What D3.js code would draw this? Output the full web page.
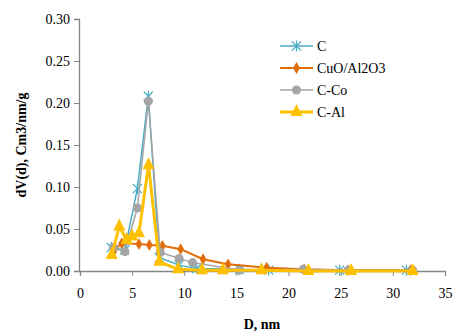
<!DOCTYPE html>
<html>
<head>
<meta charset="utf-8">
<script src="https://cdn.jsdelivr.net/npm/d3@7"></script>
<style>
  body { margin: 0; background: #fff; }
  svg, svg text { font-family: "Liberation Serif", "Times New Roman", serif !important; }
</style>
</head>
<body>
<svg id="chart" width="454" height="334"></svg>
<script>
// pore diameter D (nm) and dV(d) for each sample
const seriesNames = ["C", "CuO/Al2O3", "C-Co", "C-Al"];

const cD = [3.0, 4.3, 5.5, 6.55, 7.6, 9.5, 11.2, 15.3, 18.1, 24.9, 31.3];
const cV = [0.028, 0.025, 0.098, 0.208, 0.016, 0.007, 0.003, 0.002, 0.001, 0.001, 0.001];

const cuoD = [3.3, 4.0, 5.65, 6.65, 7.9, 9.65, 11.8, 14.2, 17.9, 21.5, 25.7, 31.7];
const cuoV = [0.025, 0.033, 0.032, 0.031, 0.030, 0.026, 0.014, 0.008, 0.004, 0.002, 0.001, 0.001];

const coD = [3.2, 4.3, 5.5, 6.55, 7.7, 9.5, 10.8, 15.3, 21.4, 25.7, 31.9];
const coV = [0.028, 0.023, 0.075, 0.202, 0.022, 0.015, 0.010, 0.001, 0.002, 0.001, 0.001];

const alD = [3.04, 3.77, 4.47, 5.0, 5.65, 6.57, 7.6, 9.4, 11.7, 13.7, 17.4, 21.9, 26.0, 31.9];
const alV = [0.019, 0.053, 0.037, 0.041, 0.045, 0.126, 0.011, 0.002, 0.001, 0.001, 0.001, 0.0, 0.0, 0.0];

const xTicks = [0, 5, 10, 15, 20, 25, 30, 35];
const yTicks = [0, 0.05, 0.10, 0.15, 0.20, 0.25, 0.30];

const zip = (xs, ys) => xs.map((d, i) => ({x: d, y: ys[i]}));

const series = [
  {name: seriesNames[0], pts: zip(cD, cV), color: "#4BACC6", width: 1.5, marker: "star"},
  {name: seriesNames[1], pts: zip(cuoD, cuoV), color: "#E36C09", width: 2, marker: "diamond"},
  {name: seriesNames[2], pts: zip(coD, coV), color: "#A5A5A5", width: 1.5, marker: "circle"},
  {name: seriesNames[3], pts: zip(alD, alV), color: "#FFC000", width: 3, marker: "triangle"}
];

const svg = d3.select("#chart");
const margin = {left: 80, right: 9, top: 19, bottom: 63};
const W = 454, H = 334;

const x = d3.scaleLinear().domain([0, 35]).range([margin.left, W - margin.right]);
const y = d3.scaleLinear().domain([0, 0.30]).range([H - margin.bottom, margin.top]);

const axisColor = "#868686";

// y axis
const gy = svg.append("g")
  .attr("transform", `translate(${margin.left - 1},0)`)
  .call(d3.axisLeft(y).tickValues(yTicks).tickFormat(d3.format(".2f")).tickSize(5).tickPadding(4));
// x axis
const gx = svg.append("g")
  .attr("transform", `translate(0,${H - margin.bottom})`)
  .call(d3.axisBottom(x).tickValues(xTicks).tickSize(5).tickPadding(12));

[gx, gy].forEach(g => {
  g.attr("font-family", null);
  g.select(".domain").attr("stroke", axisColor).attr("stroke-width", 1.3);
  g.selectAll(".tick line").attr("stroke", axisColor);
  g.selectAll(".tick text").attr("fill", "#000").attr("font-size", 14);
});

// axis titles
svg.append("text")
  .attr("transform", `translate(26,${(margin.top + H - margin.bottom) / 2}) rotate(-90)`)
  .attr("text-anchor", "middle")
  .attr("font-weight", "bold")
  .attr("font-size", 14)
  .text("dV(d), Cm3/nm/g");

svg.append("text")
  .attr("x", 262)
  .attr("y", 329)
  .attr("text-anchor", "middle")
  .attr("font-weight", "bold")
  .attr("font-size", 14)
  .text("D, nm");

const line = d3.line().x(d => x(d.x)).y(d => y(d.y));

function drawMarker(g, type, color) {
  if (type === "star") {
    const s = 4.5;
    g.append("path")
      .attr("d", `M${-s},${-s}L${s},${s}M${-s},${s}L${s},${-s}M0,${-s - 1}L0,${s + 1}`)
      .attr("stroke", color).attr("stroke-width", 1.2).attr("fill", "none");
  } else if (type === "diamond") {
    g.append("path").attr("d", d3.symbol(d3.symbolDiamond, 40)()).attr("fill", color);
  } else if (type === "circle") {
    g.append("circle").attr("r", 4.5).attr("fill", color);
  } else {
    g.append("path").attr("d", "M0,-8L6,4L-6,4Z").attr("fill", color);
  }
}

series.forEach(s => {
  const g = svg.append("g");
  g.append("path")
    .datum(s.pts)
    .attr("d", line)
    .attr("fill", "none")
    .attr("stroke", s.color)
    .attr("stroke-width", s.width)
    .attr("stroke-linejoin", "round");
  g.selectAll("g.mk").data(s.pts).enter().append("g")
    .attr("class", "mk")
    .attr("transform", d => `translate(${x(d.x)},${y(d.y)})`)
    .each(function () { drawMarker(d3.select(this), s.marker, s.color); });
});

// legend
const legend = svg.append("g").attr("transform", "translate(280,46)");
series.forEach((s, i) => {
  const row = legend.append("g").attr("transform", `translate(0,${i * 22})`);
  row.append("line").attr("x1", 0).attr("x2", 33).attr("y1", 0).attr("y2", 0)
    .attr("stroke", s.color).attr("stroke-width", s.width);
  const m = row.append("g").attr("transform", "translate(16.5,0)");
  drawMarker(m, s.marker, s.color);
  row.append("text").attr("x", 37).attr("y", 5).attr("font-size", 14).text(s.name);
});
</script>
</body>
</html>
